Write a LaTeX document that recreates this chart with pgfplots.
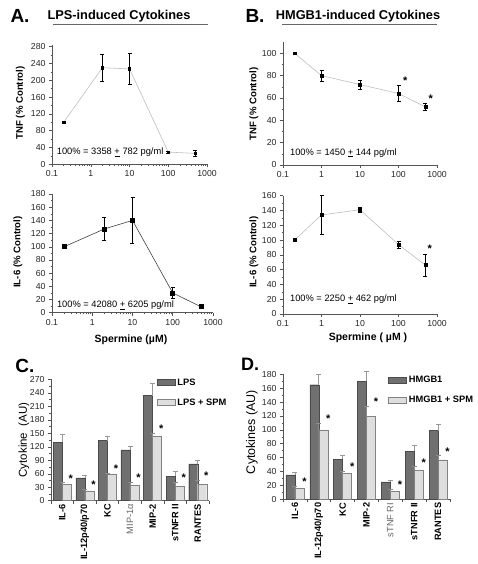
\documentclass[border=0pt]{standalone}
\usepackage{fontspec}
\setmainfont{Liberation Sans}
\usepackage{pgfplots}
\pgfplotsset{compat=1.18}
\definecolor{darkbar}{RGB}{112,112,112}
\definecolor{darkedge}{RGB}{75,75,75}
\definecolor{lightbar}{RGB}{222,222,222}
\definecolor{lightedge}{RGB}{130,130,130}
\definecolor{axisgray}{RGB}{85,85,85}
\definecolor{lineg}{RGB}{190,190,190}
\pgfplotsset{
  every axis/.append style={scale only axis, anchor=south west, axis lines*=left,
    axis line style={draw=axisgray, line width=0.6pt, -},
    tick align=outside, tick style={draw=axisgray, line width=0.5pt},
    major tick length=3pt, minor tick length=1.5pt,
    /pgf/number format/assume math mode=true,
    ticklabel style={font=\fontsize{8.7}{9}\selectfont, text=black!85},
    clip=false},
}
\pgfplotsset{
  lineax/.style={xmin=0.1, xmax=1000, xtick={0.1,1,10,100,1000},
    xticklabels={0.1,1,10,100,1000},
    minor xtick={0.2,0.3,0.4,0.5,0.6,0.7,0.8,0.9,2,3,4,5,6,7,8,9,20,30,40,50,60,70,80,90,200,300,400,500,600,700,800,900},
    ymin=0, minor y tick num=1},
  errb/.style={draw=none, mark=none, forget plot, error bars/.cd, y dir=both, y explicit,
    error bar style={black, line width=0.5pt},
    error mark options={rotate=90, mark size=2pt, black, line width=0.5pt}},
  starp/.style={only marks, mark=none, forget plot, point meta=y,
    nodes near coords={\textbf{*}},
    every node near coord/.style={anchor=center, font=\fontsize{11}{11}\selectfont, inner sep=0pt}},
  barax/.style={xmin=-0.5, xmax=6.5, ymin=0,
    xtick={-0.5,0.5,...,6.5}, xticklabel={\mbox{}},
    extra x tick style={major tick length=0pt,
      tick label style={rotate=90, anchor=east, font=\fontsize{9.2}{9}\selectfont, text=black}},
    minor y tick num=1,
    legend style={draw=none, fill=none, inner sep=0pt, row sep=8pt,
      font=\bfseries\fontsize{9.3}{9}\selectfont},
    legend cell align=left,
    legend image code/.code={\draw[##1] (0pt,-3pt) rectangle (18pt,3pt);}},
  darkb/.style={ybar, bar width=9pt, bar shift=-4.5pt, fill=darkbar, draw=darkedge, line width=0.4pt,
    error bars/.cd, y dir=plus, y explicit,
    error bar style={color=black!40, line width=0.6pt},
    error mark options={rotate=90, mark size=2.5pt, color=black!40, line width=0.6pt}},
  lightb/.style={ybar, bar width=9pt, bar shift=4.5pt, fill=lightbar, draw=lightedge, line width=0.4pt,
    error bars/.cd, y dir=plus, y explicit,
    error bar style={color=black!45, line width=0.6pt},
    error mark options={rotate=90, mark size=2.5pt, color=black!45, line width=0.6pt}},
}
\begin{document}
\begin{tikzpicture}[x=1pt,y=1pt]
\useasboundingbox (0,0) rectangle (478,564);

% ---------- titles ----------
\node[font=\bfseries\fontsize{19}{19}\selectfont] at (20,548) {A.};
\node[font=\bfseries\fontsize{12.8}{13}\selectfont] at (119,548) {LPS-induced Cytokines};
\draw[black!60, line width=1.3pt] (53,539.5) -- (208,539.5);
\node[font=\bfseries\fontsize{19}{19}\selectfont] at (255,548) {B.};
\node[font=\bfseries\fontsize{12.8}{13}\selectfont] at (358,548) {HMGB1-induced Cytokines};
\draw[black!60, line width=1.3pt] (282,539.5) -- (437,539.5);

% ---------- A top: TNF ----------
\begin{axis}[xmode=log, lineax, at={(52pt,399.7pt)}, width=155pt, height=119.3pt,
  ymax=284, ytick={0,40,...,280}]
\addplot[color=lineg, line width=0.6pt, mark=square*, mark size=1.2pt, mark options={black, fill=black}]
  coordinates {(0.2,100) (2,230) (10,227) (100,29) (500,26)};
\addplot[errb] coordinates {(2,230) +- (0,33) (10,227) +- (0,37) (100,29) +- (0,2) (500,26) +- (0,7)};
\node[anchor=west, font=\fontsize{9.3}{9}\selectfont, inner sep=0pt] at (rel axis cs:0.03,0.10) {100\% = 3358 \underline{+} 782 pg/ml};
\end{axis}
\node[rotate=90, font=\bfseries\fontsize{9.6}{9}\selectfont] at (20.5,461) {TNF (\% Control)};

% ---------- A bottom: IL-6 ----------
\begin{axis}[xmode=log, lineax, at={(52pt,251.3pt)}, width=161pt, height=118.7pt,
  ymax=180, ytick={0,20,...,180}]
\addplot[color=black!75, line width=0.6pt, mark=square*, mark size=2pt, mark options={black, fill=black}]
  coordinates {(0.2,100) (2,127) (10,140) (100,30) (500,9)};
\addplot[errb] coordinates {(2,127) +- (0,17) (10,140) +- (0,35) (100,30) +- (0,8)};
\node[anchor=west, font=\fontsize{9.3}{9}\selectfont, inner sep=0pt] at (rel axis cs:0.03,0.06) {100\% = 42080 \underline{+} 6205 pg/ml};
\end{axis}
\node[rotate=90, font=\bfseries\fontsize{9.6}{9}\selectfont] at (18,312) {IL-6 (\% Control)};
\node[font=\bfseries\fontsize{10.5}{10}\selectfont] at (131,224) {Spermine (µM)};

% ---------- B top: TNF ----------
\begin{axis}[xmode=log, lineax, at={(283pt,399pt)}, width=154pt, height=122.9pt,
  ymax=110, ytick={0,20,...,100}]
\addplot[color=lineg, line width=0.6pt, mark=square*, mark size=1.4pt, mark options={black, fill=black}]
  coordinates {(0.2,100) (1,80) (10,72) (100,64) (500,52)};
\addplot[errb] coordinates {(1,80) +- (0,4.7) (10,72) +- (0,4) (100,64) +- (0,7.3) (500,52) +- (0,3)};
\addplot[starp] coordinates {(149,75.5) (687,59.4)};
\node[anchor=west, font=\fontsize{9.3}{9}\selectfont, inner sep=0pt] at (rel axis cs:0.045,0.10) {100\% = 1450 \underline{+} 144 pg/ml};
\end{axis}
\node[rotate=90, font=\bfseries\fontsize{9.6}{9}\selectfont] at (254,460) {TNF (\% Control)};

% ---------- B bottom: IL-6 ----------
\begin{axis}[xmode=log, lineax, at={(283pt,250pt)}, width=154pt, height=118.3pt,
  ymax=160, ytick={0,20,...,160}]
\addplot[color=lineg, line width=0.6pt, mark=square*, mark size=1.4pt, mark options={black, fill=black}]
  coordinates {(0.2,100) (1,134) (10,141) (100,94) (500,66)};
\addplot[errb] coordinates {(1,134) +- (0,26) (10,141) +- (0,3.5) (100,94) +- (0,5) (500,66) +- (0,15)};
\addplot[starp] coordinates {(645,88)};
\node[anchor=west, font=\fontsize{9.3}{9}\selectfont, inner sep=0pt] at (rel axis cs:0.045,0.127) {100\% = 2250 \underline{+} 462 pg/ml};
\end{axis}
\node[rotate=90, font=\bfseries\fontsize{9.6}{9}\selectfont] at (254,312) {IL-6 (\% Control)};
\node[font=\bfseries\fontsize{10.5}{10}\selectfont] at (368,226) {Spermine ( µM )};

% ---------- C ----------
\node[font=\bfseries\fontsize{19}{19}\selectfont] at (25,198) {C.};
\begin{axis}[barax, at={(51pt,63.3pt)}, width=158pt, height=121.2pt,
  ymax=270, ytick={0,30,...,270},
  extra x ticks={0,1,2,3,4,5,6},
  extra x tick labels={\textbf{IL-6},\textbf{IL-12p40/p70},\textbf{KC},{\color{black!60}MIP-1α},\textbf{MIP-2},\textbf{sTNFR II},\textbf{RANTES}},
  legend style={at={(rel axis cs:0.67,1.025)}, anchor=north west}]
\addplot[darkb] coordinates {(0,130) +- (0,17) (1,51) +- (0,6) (2,134) +- (0,9) (3,113) +- (0,9) (4,234) +- (0,27) (5,55) +- (0,11) (6,82) +- (0,7)};
\addlegendentry{LPS}
\addplot[lightb] coordinates {(0,37) +- (0,3) (1,22) +- (0,2.5) (2,60) +- (0,2) (3,35) +- (0,6) (4,143) +- (0,7) (5,32) +- (0,10) (6,37) +- (0,9)};
\addlegendentry{LPS + SPM}
\addplot[starp] coordinates {(0.38,50) (1.38,34.5) (2.38,72) (3.38,51) (4.38,160) (5.38,52) (6.38,56)};
\end{axis}
\node[rotate=90, font=\fontsize{11.5}{12}\selectfont] at (24,124) {Cytokine\ \ (AU)};

% ---------- D ----------
\node[font=\bfseries\fontsize{18}{18}\selectfont] at (250,200) {D.};
\begin{axis}[barax, at={(283pt,64.7pt)}, width=167pt, height=125pt,
  ymax=180, ytick={0,20,...,180},
  extra x ticks={0,1,2,3,4,5,6},
  extra x tick labels={\textbf{IL-6},\textbf{IL-12p40/p70},\textbf{KC},\textbf{MIP-2},{\color{black!60}sTNF RI},\textbf{sTNFR II},\textbf{RANTES}},
  legend style={at={(rel axis cs:0.63,1.0)}, anchor=north west}]
\addplot[darkb] coordinates {(0,35) +- (0,4) (1,165) +- (0,15) (2,58) +- (0,5) (3,170) +- (0,14) (4,25) +- (0,3) (5,69) +- (0,9) (6,99) +- (0,9)};
\addlegendentry{HMGB1}
\addplot[lightb] coordinates {(0,16) +- (0,3) (1,100) +- (0,10) (2,37) +- (0,4) (3,119) +- (0,15) (4,11) +- (0,4) (5,42) +- (0,5) (6,57) +- (0,6)};
\addlegendentry{HMGB1 + SPM}
\addplot[starp] coordinates {(0.4,25) (1.4,116) (2.4,47) (3.4,140) (4.4,21) (5.4,53) (6.4,69)};
\end{axis}
\node[rotate=90, font=\fontsize{12.5}{12}\selectfont] at (252,132) {Cytokines (AU)};
\end{tikzpicture}
\end{document}
